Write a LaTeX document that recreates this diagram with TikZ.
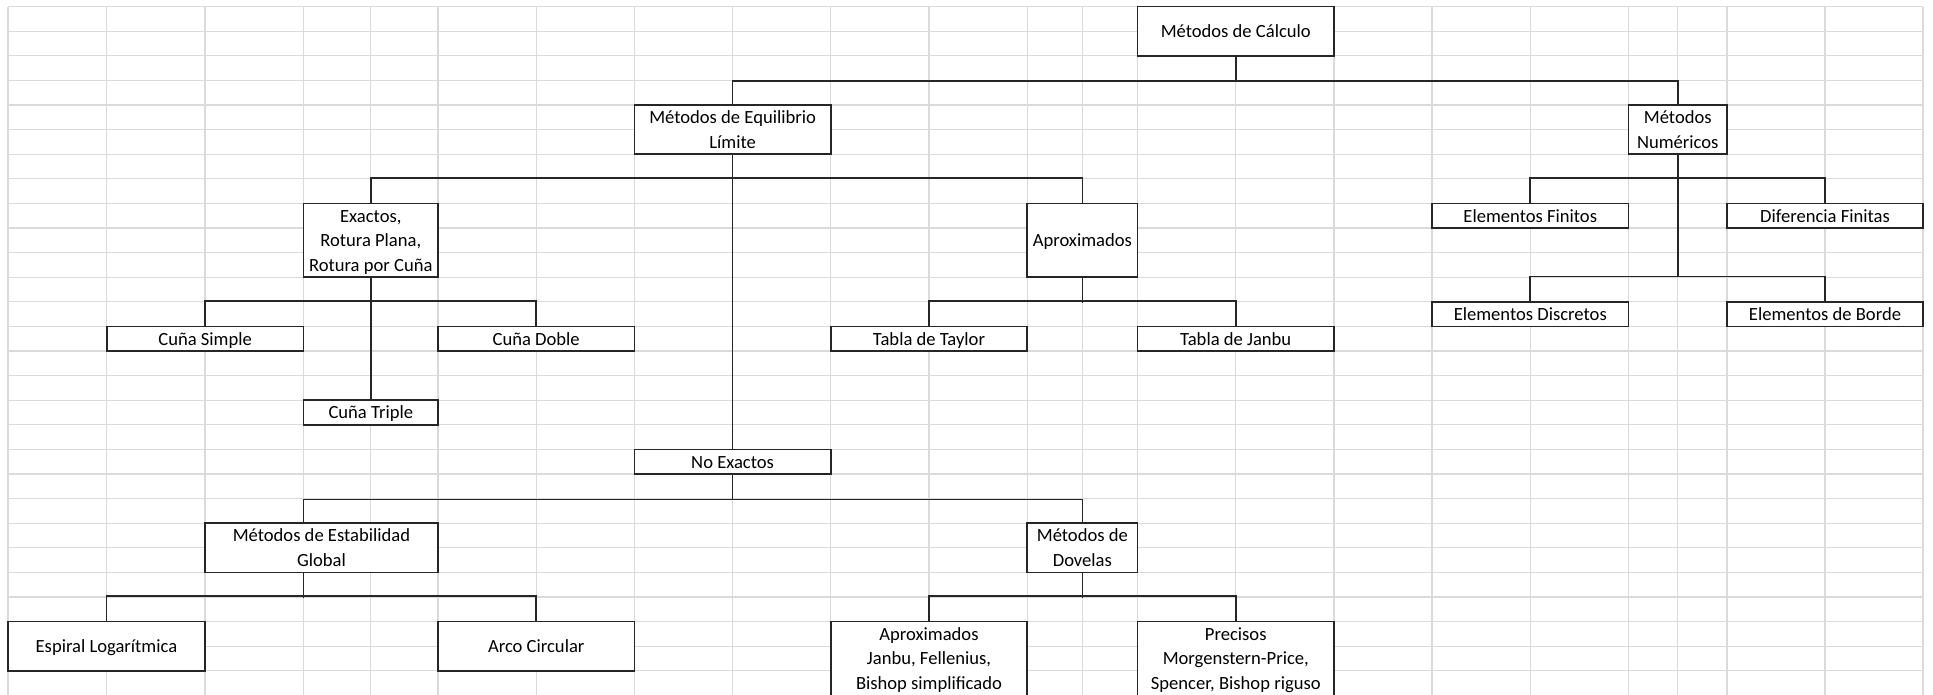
\documentclass[tikz,border=0pt]{standalone}
\usepackage{fontspec}
\setmainfont{Carlito}
\usetikzlibrary{calc}
\definecolor{gridc}{HTML}{DADADA}
\definecolor{linec}{HTML}{262626}
\newcommand{\mystrut}{\rule[-4pt]{0pt}{21pt}}
\begin{document}
\begin{tikzpicture}[x=1pt,y=-1pt,
  gridline/.style={draw=gridc,line width=1.2pt},
  box/.style={draw=linec,line width=1.6pt,fill=white,rectangle,inner sep=0pt,align=center,
              font=\fontsize{18.6}{24.6}\selectfont,text=black},
  conn/.style={draw=linec,line width=1.6pt},
  w1/.style={minimum width=196.5pt},
  h1/.style={minimum height=24.6pt},
  h2/.style={minimum height=49.2pt},
  h3/.style={minimum height=73.8pt}]
\useasboundingbox (0,0) rectangle (1933,694);
\clip (0,0) rectangle (1933,694);
\fill[white] (0,0) rectangle (1933,694);
% spreadsheet grid
\foreach \k in {0,...,28} \draw[gridline] (8,{6.5+24.6*\k}) -- (1923,{6.5+24.6*\k});
\foreach \x in {8,106.7,204.9,303.6,370.5,438,536.2,634.4,732.6,830.8,929,1027.2,1082.6,1137.5,1235.7,1334,1432,1530.5,1628.5,1677.7,1727,1825,1923}
  \draw[gridline] (\x,6.5) -- (\x,700);
% nodes
\node[box,w1,h2] (calc) at (1235.75,31.1) {\mystrut Métodos de Cálculo};
\node[box,w1,h2] (equil) at (732.6,129.5) {\mystrut Métodos de Equilibrio\\\mystrut Límite};
\node[box,minimum width=98.5pt,h2] (numer) at (1677.75,129.5) {\mystrut Métodos\\\mystrut Numéricos};
\node[box,minimum width=134.4pt,h3] (exact) at (370.8,240.2) {\mystrut Exactos,\\\mystrut Rotura Plana,\\\mystrut Rotura por Cuña};
\node[box,minimum width=110.3pt,h3] (aprox) at (1082.35,240.2) {\mystrut Aproximados};
\node[box,w1,h1] (simple) at (205.15,338.6) {\mystrut Cuña Simple};
\node[box,w1,h1] (doble) at (536.2,338.6) {\mystrut Cuña Doble};
\node[box,minimum width=134.4pt,h1] (triple) at (370.8,412.4) {\mystrut Cuña Triple};
\node[box,w1,h1] (taylor) at (929,338.6) {\mystrut Tabla de Taylor};
\node[box,w1,h1] (janbu) at (1235.75,338.6) {\mystrut Tabla de Janbu};
\node[box,w1,h1] (fin) at (1530.25,215.6) {\mystrut Elementos Finitos};
\node[box,w1,h1] (dif) at (1825,215.6) {\mystrut Diferencia Finitas};
\node[box,w1,h1] (disc) at (1530.25,314) {\mystrut Elementos Discretos};
\node[box,w1,h1] (borde) at (1825,314) {\mystrut Elementos de Borde};
\node[box,w1,h1] (noex) at (732.6,461.6) {\mystrut No Exactos};
\node[box,minimum width=233.1pt,h2] (estab) at (321.45,547.7) {\mystrut Métodos de Estabilidad\\\mystrut Global};
\node[box,minimum width=110.3pt,h2] (dov) at (1082.35,547.7) {\mystrut Métodos de\\\mystrut Dovelas};
\node[box,w1,h2] (espiral) at (106.45,646.1) {\mystrut Espiral Logarítmica};
\node[box,w1,h2] (arco) at (536.2,646.1) {\mystrut Arco Circular};
\node[box,w1,h3] (aprox2) at (929,658.4) {\mystrut Aproximados\\\mystrut Janbu, Fellenius,\\\mystrut Bishop simplificado};
\node[box,w1,h3] (prec) at (1235.75,658.4) {\mystrut Precisos\\\mystrut Morgenstern-Price,\\\mystrut Spencer, Bishop riguso};
% connectors
\draw[conn] (calc.south) -- ++(0,24.6) coordinate (b1);
\draw[conn] (equil.north) |- (b1) -| (numer.north);
\draw[conn] (equil.south) -- (noex.north);
\draw[conn] (exact.north) -- ++(0,-24.6) -| (aprox.north);
\draw[conn] (exact.south) -- (triple.north);
\draw[conn] (simple.north) -- ++(0,-24.6) -| (doble.north);
\draw[conn] (aprox.south) -- ++(0,24.6);
\draw[conn] (taylor.north) -- ++(0,-24.6) -| (janbu.north);
\path (disc.north) ++(0,-24.6) coordinate (nb);
\draw[conn] (numer.south) -- (numer.south |- nb);
\draw[conn] (fin.north) -- ++(0,-24.6) -| (dif.north);
\draw[conn] (disc.north) -- ++(0,-24.6) -| (borde.north);
\draw[conn] (noex.south) -- ++(0,24.6) coordinate (nxb);
\draw[conn] ([xshift=-17.85pt]estab.north) |- (nxb) -| (dov.north);
\draw[conn] ([xshift=-17.85pt]estab.south) -- ++(0,24.6);
\draw[conn] (espiral.north) -- ++(0,-24.6) -| (arco.north);
\draw[conn] (dov.south) -- ++(0,24.6);
\draw[conn] (aprox2.north) -- ++(0,-24.6) -| (prec.north);
\end{tikzpicture}
\end{document}
